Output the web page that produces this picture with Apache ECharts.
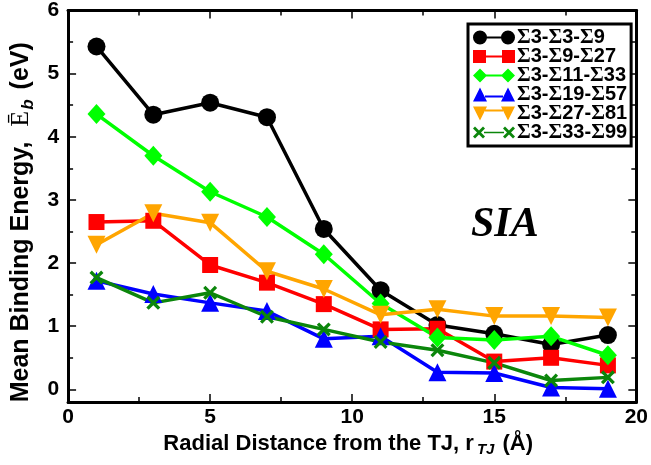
<!DOCTYPE html>
<html style="height: 100%">
<head>
    <meta charset="utf-8">
</head>
<body style="height: 100%; margin: 0; background: #fff">
    <div id="container" style="width: 651px; height: 465px"></div>
    <script src="https://cdn.jsdelivr.net/npm/echarts@6/dist/echarts.min.js"></script>
    <script type="text/javascript">
        // radial distance (A)
        var xs = [1, 3, 5, 7, 9, 11, 13, 15, 17, 19];
        var names = ['Σ3-Σ3-Σ9', 'Σ3-Σ9-Σ27', 'Σ3-Σ11-Σ33', 'Σ3-Σ19-Σ57', 'Σ3-Σ27-Σ81', 'Σ3-Σ33-Σ99'];
        var s3_9 = [5.43, 4.35, 4.54, 4.31, 2.54, 1.57, 1.02, 0.88, 0.71, 0.86];
        var s9_27 = [2.65, 2.67, 1.97, 1.69, 1.35, 0.95, 0.96, 0.44, 0.50, 0.38];
        var s11_33 = [4.36, 3.70, 3.13, 2.73, 2.14, 1.36, 0.82, 0.78, 0.84, 0.54];
        var s19_57 = [1.72, 1.51, 1.37, 1.24, 0.80, 0.84, 0.27, 0.26, 0.03, 0.01];
        var s27_81 = [2.29, 2.79, 2.64, 1.87, 1.59, 1.18, 1.27, 1.16, 1.16, 1.14];
        var s33_99 = [1.77, 1.37, 1.53, 1.15, 0.95, 0.75, 0.62, 0.42, 0.14, 0.19];
        var yMajor = [0, 1, 2, 3, 4, 5, 6];
        var yMinor = [0.5, 1.5, 2.5, 3.5, 4.5, 5.5];

        var colors = ['#000000', '#ff0000', '#00ff00', '#0000ff', '#ffa500', '#0b860b'];
        var crossPath = 'path://M0,2 L2,0 L6,4 L10,0 L12,2 L8,6 L12,10 L10,12 L6,8 L2,12 L0,10 L4,6 Z';
        var symbols = ['circle', 'rect', 'diamond', 'triangle', 'path://M0,0 L10,0 L5,9 Z', crossPath];
        var sizes = [18, 16, [18, 20], 18, 18, 14];
        var legendIcons = [
            'path://M0,7 A7,7 0 1,1 14,7 A7,7 0 1,1 0,7 Z M13,6 L29,6 L29,8 L13,8 Z M28,7 A7,7 0 1,1 42,7 A7,7 0 1,1 28,7 Z',
            'path://M0,0 L13,0 L13,13 L0,13 Z M13,5.5 L29,5.5 L29,7.5 L13,7.5 Z M29,0 L42,0 L42,13 L29,13 Z',
            'path://M0,7 L7,0 L14,7 L7,14 Z M13,6 L29,6 L29,8 L13,8 Z M28,7 L35,0 L42,7 L35,14 Z',
            'path://M0,14 L7,0 L14,14 Z M12,8 L30,8 L30,10 L12,10 Z M28,14 L35,0 L42,14 Z',
            'path://M0,0 L14,0 L7,14 Z M12,3 L30,3 L30,5 L12,5 Z M28,0 L42,0 L35,14 Z',
            'path://M0,2 L2,0 L6,4 L10,0 L12,2 L8,6 L12,10 L10,12 L6,8 L2,12 L0,10 L4,6 Z M11,5.2 L31,5.2 L31,6.8 L11,6.8 Z M30,2 L32,0 L36,4 L40,0 L42,2 L38,6 L42,10 L40,12 L36,8 L32,12 L30,10 L34,6 Z'
        ];
        var allData = [s3_9, s9_27, s11_33, s19_57, s27_81, s33_99];

        var dom = document.getElementById("container");
        var myChart = echarts.init(dom);

        var series = allData.map(function(vals, i) {
            return {
                name: names[i],
                type: 'line',
                data: xs.map(function(x, k) { return [x, vals[k]]; }),
                symbol: symbols[i],
                symbolSize: sizes[i],
                lineStyle: { color: colors[i], width: 3.5 },
                itemStyle: { color: colors[i] },
                animation: false
            };
        });

        var font = 'Liberation Sans';
        var tickAxisY = function(pos, vals, len, showLabel) {
            return {
                type: 'value', position: pos, min: -0.2, max: 6,
                axisLine: { show: true, onZero: false, lineStyle: { color: '#000', width: 3 } },
                axisTick: { show: true, inside: true, length: len, customValues: vals, lineStyle: { color: '#000', width: 1.5 } },
                axisLabel: showLabel ? { customValues: vals, color: '#000', fontFamily: font, fontWeight: 'bold', fontSize: 21, margin: 9 } : { show: false },
                splitLine: { show: false }
            };
        };

        option = {
            backgroundColor: '#fff',
            grid: { left: 65, right: 13, top: 10, bottom: 63 },
            legend: {
                orient: 'vertical',
                left: 468, top: 24,
                width: 164,
                padding: [3, 4, 3, 5],
                borderColor: '#000', borderWidth: 3,
                backgroundColor: '#fff',
                itemWidth: 42, itemHeight: 14, itemGap: -2,
                data: names.map(function(n, i) {
                    return { name: n, icon: legendIcons[i], itemStyle: { color: colors[i] } };
                }),
                formatter: function(n) {
                    return n.split('Σ').map(function(p, k) { return k === 0 ? p : '{s|Σ}{t|' + p + '}'; }).join('');
                },
                textStyle: {
                    color: '#000', fontFamily: font, fontWeight: 'bold', fontSize: 20, lineHeight: 18, padding: [0, 0, 0, -3],
                    rich: {
                        s: { fontFamily: 'Liberation Serif', fontSize: 21, color: '#000', lineHeight: 18 },
                        t: { fontFamily: font, fontWeight: 'bold', fontSize: 20, color: '#000', lineHeight: 18 }
                    }
                }
            },
            graphic: [{
                type: 'text', left: 471, top: 204,
                style: { text: 'SIA', fontFamily: 'Liberation Serif', fontStyle: 'italic', fontWeight: 'bold', fontSize: 42, fill: '#000' }
            }],
            xAxis: [{
                type: 'value', min: 0, max: 20, interval: 5, position: 'bottom',
                name: '{a|Radial Distance from the TJ, r}{b|TJ}{a| (Å)}',
                nameLocation: 'middle', nameGap: 27,
                nameTextStyle: {
                    padding: [0, 8, 0, 0],
                    rich: {
                        a: { fontFamily: font, fontWeight: 'bold', fontSize: 22, color: '#000' },
                        b: { fontFamily: font, fontWeight: 'bold', fontStyle: 'italic', fontSize: 15, color: '#000', padding: [12, 2, 0, 3] }
                    }
                },
                axisLine: { onZero: false, lineStyle: { color: '#000', width: 3 } },
                axisTick: { inside: true, length: 8, lineStyle: { color: '#000', width: 1.5 } },
                minorTick: { show: true, splitNumber: 2, length: 5, lineStyle: { color: '#000', width: 1.5 } },
                axisLabel: { color: '#000', fontFamily: font, fontWeight: 'bold', fontSize: 21, margin: 5 },
                splitLine: { show: false }
            }, {
                type: 'value', min: 0, max: 20, interval: 5, position: 'top',
                axisLine: { onZero: false, lineStyle: { color: '#000', width: 3 } },
                axisTick: { inside: true, length: 8, lineStyle: { color: '#000', width: 1.5 } },
                minorTick: { show: true, splitNumber: 2, length: 5, lineStyle: { color: '#000', width: 1.5 } },
                axisLabel: { show: false },
                splitLine: { show: false }
            }],
            yAxis: [
                Object.assign(tickAxisY('left', yMajor, 8, true), {
                    name: '{a|Mean Binding Energy,}{e|Ē}{b|b}{a| (eV)}',
                    nameLocation: 'middle', nameGap: 25, nameRotate: 90,
                    nameTextStyle: {
                        padding: [0, 32, 0, 0],
                        rich: {
                            a: { fontFamily: font, fontWeight: 'bold', fontSize: 25, color: '#000' },
                            e: { fontFamily: 'Liberation Serif', fontSize: 26, color: '#000', padding: [0, 0, 0, 15] },
                            b: { fontFamily: font, fontWeight: 'bold', fontStyle: 'italic', fontSize: 17, color: '#000', padding: [14, 3, 0, 1] }
                        }
                    }
                }),
                tickAxisY('left', yMinor, 5, false),
                tickAxisY('right', yMajor, 8, false),
                tickAxisY('right', yMinor, 5, false)
            ],
            series: series
        };

        myChart.setOption(option);
    </script>
</body>
</html>
